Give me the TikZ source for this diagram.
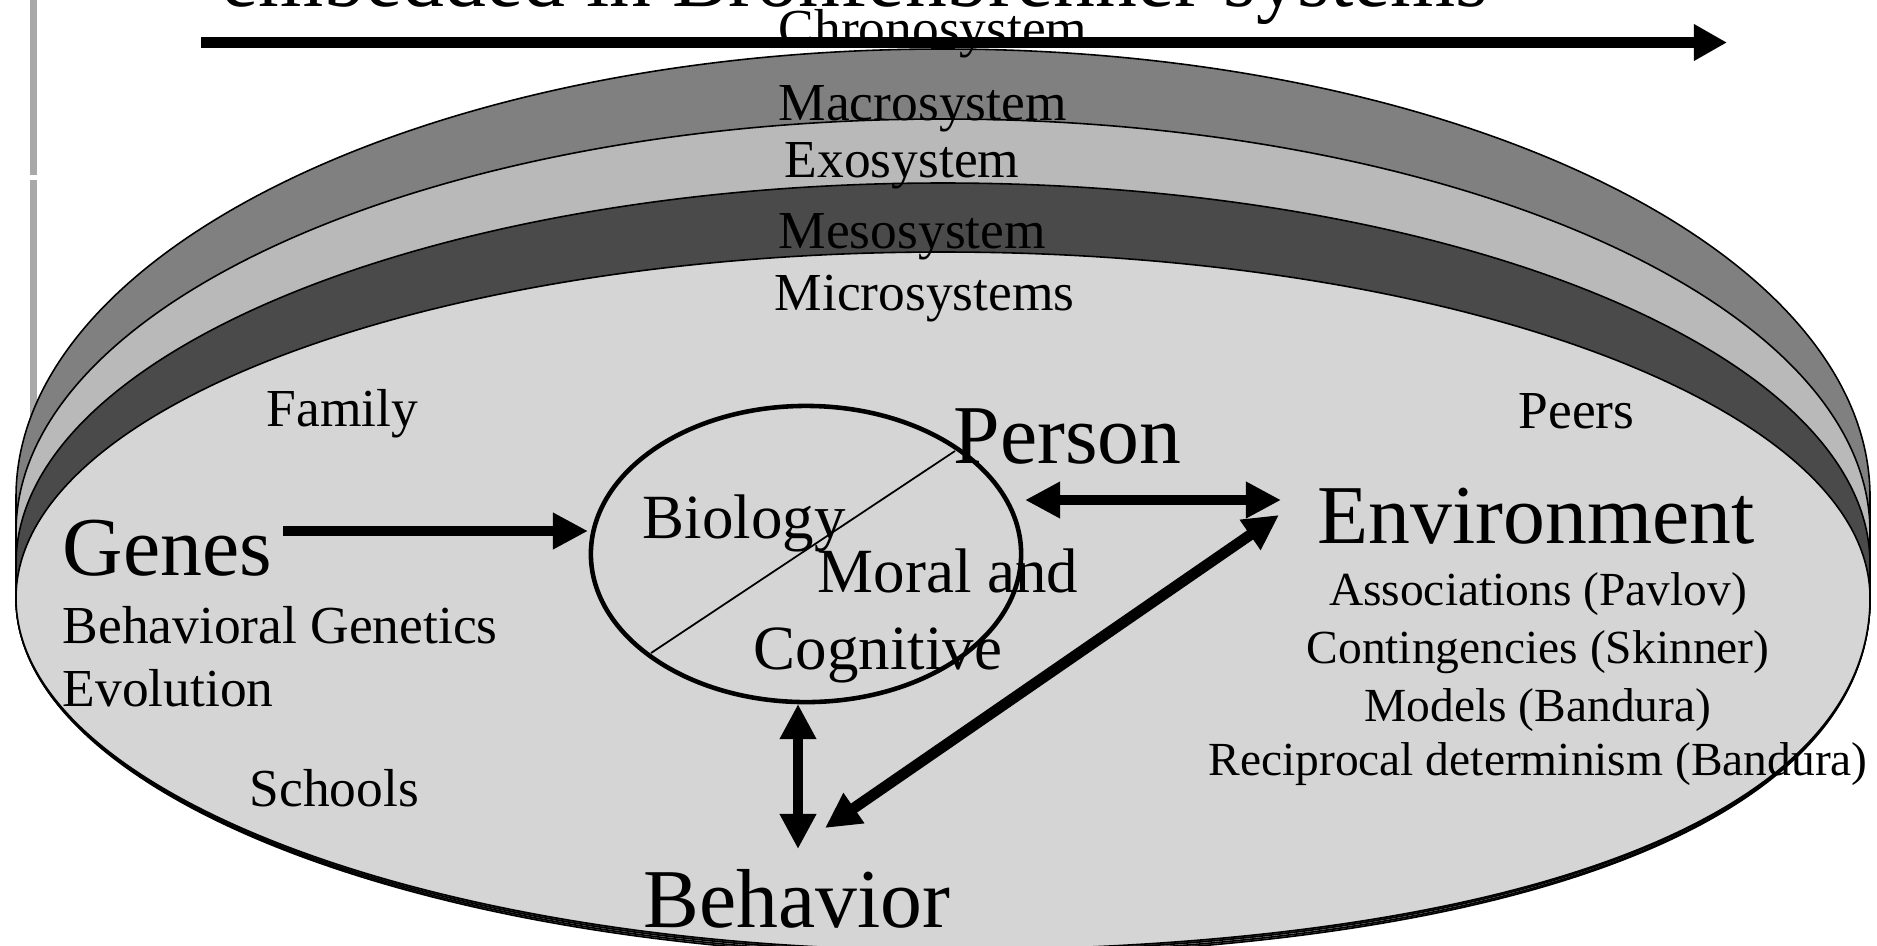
\documentclass[tikz,border=0pt]{standalone}
\usepackage{fontspec}
\setmainfont{Liberation Serif}
\usetikzlibrary{arrows.meta,shapes.geometric}
\definecolor{macrogray}{gray}{0.50}
\definecolor{exogray}{gray}{0.725}
\definecolor{mesogray}{gray}{0.29}
\definecolor{microgray}{gray}{0.835}
\definecolor{bargray}{gray}{0.66}
\begin{document}
\begin{tikzpicture}[x=0.01cm,y=-0.01cm,
  band/.style={draw=black,line width=0.45pt},
  lbl/.style={inner sep=0pt,anchor=base west,font=\fontsize{15.2}{18}\selectfont},
  midlbl/.style={inner sep=0pt,anchor=base west,font=\fontsize{17.9}{21}\selectfont},
  biglbl/.style={inner sep=0pt,anchor=base west,font=\fontsize{23.8}{28}\selectfont},
  sublbl/.style={inner sep=0pt,anchor=base,font=\fontsize{13.5}{16}\selectfont},
  tip/.tip={Triangle[length=10pt,width=9.8pt]},
  onearrow/.style={line width=3.1pt,-tip},
  twoarrow/.style={line width=3.1pt,tip-tip}]
\useasboundingbox (0,0) rectangle (1877,945);
\clip (0,0) rectangle (1877,945);

% slide border strip on the left
\fill[bargray] (30,0) rectangle (37,175);
\fill[bargray] (30,180) rectangle (37,430);

% nested system layers, outermost first
\filldraw[band,fill=macrogray] (16,497) .. controls (16,250) and (431,49) .. (943,49)
  .. controls (1455,49) and (1870,250) .. (1870,497) -- (1870,598)
  .. controls (1870,820) and (1518,956) .. (943,956)
  .. controls (431,956) and (16,796) .. (16,598) -- cycle;
\filldraw[band,fill=exogray] (16,532) .. controls (16,304) and (431,119) .. (943,119)
  .. controls (1455,119) and (1870,304) .. (1870,532) -- (1870,598)
  .. controls (1870,819) and (1518,954) .. (943,954)
  .. controls (431,954) and (16,795) .. (16,598) -- cycle;
\filldraw[band,fill=mesogray] (16,564) .. controls (16,354) and (431,183) .. (943,183)
  .. controls (1455,183) and (1870,354) .. (1870,564) -- (1870,598)
  .. controls (1870,817) and (1518,952) .. (943,952)
  .. controls (431,952) and (16,794) .. (16,598) -- cycle;
\filldraw[band,fill=microgray] (16,598) .. controls (16,407) and (431,252) .. (943,252)
  .. controls (1455,252) and (1870,407) .. (1870,598)
  .. controls (1870,816) and (1518,950) .. (943,950)
  .. controls (431,950) and (16,792) .. (16,598) -- cycle;

% heading line, cut by the top edge
\node[biglbl] (heading) at (221,6) {embedded in Bronfenbrenner systems};

% system names
\node[lbl] (chrono) at (778,46) {Chronosystem};
\node[lbl] (macro) at (778,120) {Macrosystem};
\node[lbl] (exo) at (784,177) {Exosystem};
\node[lbl] (meso) at (778,248) {Mesosystem};
\node[lbl] (micro) at (774,310) {Microsystems};

\node[lbl] (family) at (266,426) {Family};
\node[lbl] (schools) at (249,806) {Schools};
\node[lbl] (peers) at (1518,428) {Peers};

% genes side
\node[biglbl] (genes) at (62,575) {Genes};
\node[lbl] (behgen) at (62,643) {Behavioral Genetics};
\node[lbl] (evol) at (62,706) {Evolution};

% the person
\node[ellipse,draw,line width=1.3pt,inner sep=0pt,minimum width=4.30cm,minimum height=2.96cm] (pe) at (806,554) {};
\coordinate (splitA) at (651,653);
\coordinate (splitB) at (955,451);
\draw[line width=0.5pt] (splitA) -- (splitB);
\node[midlbl] (bio) at (642,538) {Biology};
\node[midlbl] (moral) at (817,592) {Moral and};
\node[midlbl] (cog) at (753,669) {Cognitive};
\node[biglbl] (person) at (953,463) {Person};

% environment side
\node[biglbl] (env) at (1317,543) {Environment};
\node[sublbl] (pavlov) at (1538,605) {Associations (Pavlov)};
\node[sublbl] (skinner) at (1538,663) {Contingencies (Skinner)};
\node[sublbl] (models) at (1538,721) {Models (Bandura)};
\node[sublbl] (recip) at (1538,775) {Reciprocal determinism (Bandura)};

\node[biglbl] (beh) at (643,927) {Behavior};

% connectors
\coordinate (timeA) at (201,42.5);
\coordinate (timeB) at (1727,42.5);
\draw[line width=3.2pt,-{Triangle[length=9.4pt,width=9.8pt]}] (timeA) -- (timeB);

\coordinate (genesOut) at (283,531);
\coordinate (peIn) at (588,531);
\draw[onearrow] (genesOut) -- (peIn);

\coordinate (peRight) at (1025,500);
\coordinate (envLeft) at (1281,500);
\draw[twoarrow] (peRight) -- (envLeft);

\coordinate (envLow) at (1279,515);
\coordinate (behUp) at (825,828);
\draw[twoarrow] (envLow) -- (behUp);

\coordinate (peBottom) at (798,704);
\coordinate (behTop) at (798,849);
\draw[twoarrow] (peBottom) -- (behTop);
\end{tikzpicture}
\end{document}
